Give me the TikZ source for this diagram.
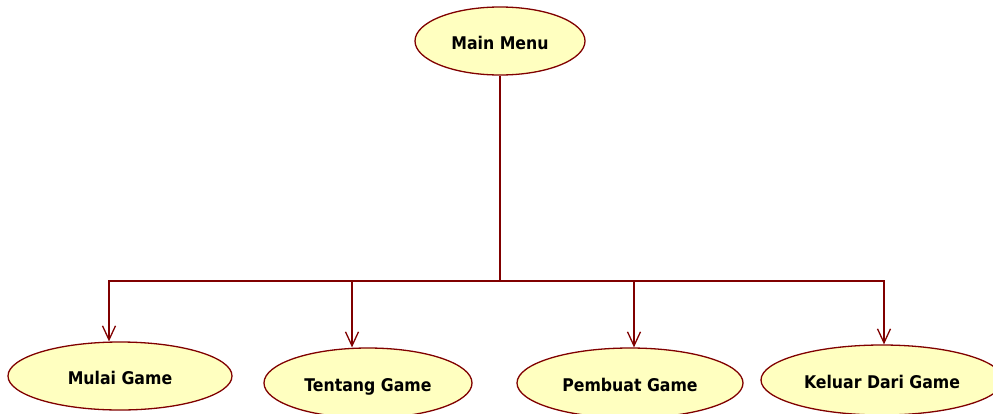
\documentclass[tikz,border=0pt]{standalone}
\usepackage{fontspec}
\setsansfont{DejaVu Sans Condensed}
\usetikzlibrary{shapes.geometric,arrows.meta}
\definecolor{linered}{RGB}{128,0,0}
\definecolor{caseyellow}{RGB}{255,255,192}
\tikzset{
  usecase/.style={ellipse, draw=linered, fill=caseyellow, line width=1.3pt, inner sep=0pt,
    text height=20pt, text depth=2.6pt,
    font=\sffamily\bfseries\fontsize{17.5}{17.5}\selectfont},
  link/.style={draw=linered, line width=1.3pt, -{Straight Barb[length=14pt,width=13pt]}}
}
\begin{document}
\begin{tikzpicture}[x=1pt,y=-1pt]
  \useasboundingbox (0,0) rectangle (993,413);
  % menu utama
  \node[usecase, minimum width=170pt, minimum height=68pt] (menu) at (500,41) {Main Menu};
  % pilihan menu
  \node[usecase, minimum width=224pt, minimum height=68pt] (mulai) at (120,376) {Mulai Game};
  \node[usecase, minimum width=208pt, minimum height=70pt] (tentang) at (368,383) {Tentang Game};
  \node[usecase, minimum width=226pt, minimum height=70pt] (pembuat) at (630,383) {Pembuat Game};
  \node[usecase, minimum width=242pt, minimum height=70pt] (keluar) at (882,380) {Keluar Dari Game};
  \coordinate (hub) at (500,281);
  % garis penghubung
  \draw[draw=linered, line width=1.3pt] (menu) -- (hub);
  \draw[link] (hub) -| ([xshift=-11pt]mulai.north);
  \draw[link] (hub) -| ([xshift=-16pt]tentang.north);
  \draw[link] (hub) -| ([xshift=4pt]pembuat.north);
  \draw[link] (hub) -| ([xshift=2pt]keluar.north);
\end{tikzpicture}
\end{document}
